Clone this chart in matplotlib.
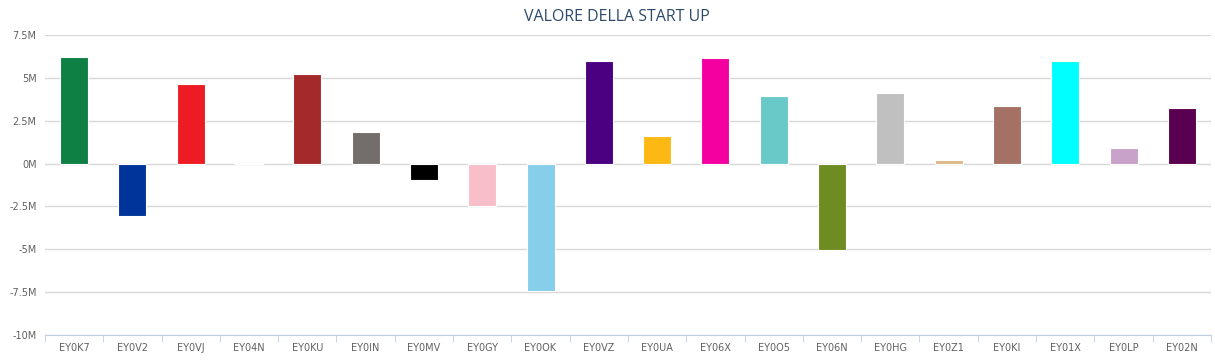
import matplotlib
matplotlib.use("Agg")
import matplotlib.pyplot as plt
from matplotlib.ticker import FuncFormatter, FixedLocator
import numpy as np

plt.rcParams['font.family'] = ['DejaVu Sans']

codes = ["EY0K7", "EY0V2", "EY0VJ", "EY04N", "EY0KU", "EY0IN", "EY0MV", "EY0GY", "EY0OK", "EY0VZ",
         "EY0UA", "EY06X", "EY0O5", "EY06N", "EY0HG", "EY0Z1", "EY0KI", "EY01X", "EY0LP", "EY02N"]
valori = [6.2, -3.05, 4.65, 0.03, 5.2, 1.87, -0.93, -2.5, -7.42, 6.0,
          1.58, 6.17, 3.97, -5.02, 4.09, 0.2, 3.33, 6.0, 0.93, 3.27]  # milioni
colori = ["#0E8044", "#00349A", "#ED1C24", "#FBF6DD", "#A3292B", "#736E6C", "#000000", "#F8BFCB",
          "#87CEEB", "#4B0082", "#FDB913", "#F400A1", "#69C9C9", "#6F8C22", "#C0C0C0", "#DEB887",
          "#A57164", "#00FFFF", "#C8A2C8", "#5A0050"]
y_ticks = [-10, -7.5, -5, -2.5, 0, 2.5, 5, 7.5]

fig = plt.figure(figsize=(12.15, 3.63), dpi=100)
ax = fig.add_axes([0.037, 0.0771, 0.9597, 0.8265])

x = np.arange(len(codes))
ax.bar(x, valori, width=0.48, color=colori, edgecolor="white", linewidth=0.8, zorder=3)

ax.set_xlim(-0.5, len(codes) - 0.5)
ax.set_ylim(-10, 7.5)
ax.yaxis.set_major_locator(FixedLocator(y_ticks))
ax.yaxis.set_major_formatter(FuncFormatter(lambda v, p: f"{v:g}M"))
ax.grid(axis="y", color="#D8D8D8", linewidth=1, zorder=0)
ax.set_xticks(x)
ax.set_xticklabels(codes)
ax.set_xticks(np.arange(-0.5, len(codes)), minor=True)

for s in ["top", "right", "left"]:
    ax.spines[s].set_visible(False)
ax.spines["bottom"].set_color("#C0D0E0")
ax.tick_params(axis="y", length=0, labelsize=7, labelcolor="#606060", pad=6)
ax.tick_params(axis="x", which="major", length=0, labelsize=7, labelcolor="#606060", pad=6)
ax.tick_params(axis="x", which="minor", length=5, color="#C0D0E0")

fig.suptitle("VALORE DELLA START UP", x=0.508, y=0.975, fontsize=11.5, color="#2E4A6B",
             family="Open Sans")

fig.savefig("out.png", dpi=100)
